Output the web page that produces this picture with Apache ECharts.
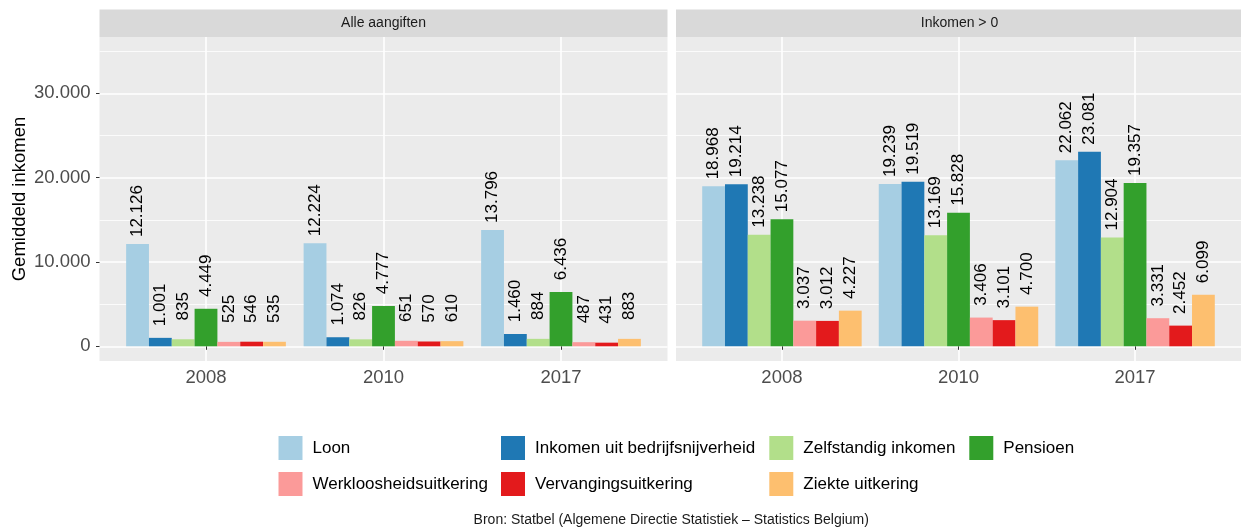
<!DOCTYPE html>
<html><head><meta charset="utf-8">
<script src="https://cdn.jsdelivr.net/npm/echarts@6/dist/echarts.min.js"></script>
<style>html,body{margin:0;padding:0;background:#fff}#c{width:1241px;height:529px}</style>
</head><body><div id="c"></div>
<script>
// ---------- DATA ----------
const YEARS = ['2008', '2010', '2017'];
const PANELS = ['Alle aangiften', 'Inkomen > 0'];
const SERIES_NAMES = ['Loon', 'Inkomen uit bedrijfsnijverheid', 'Zelfstandig inkomen', 'Pensioen',
  'Werkloosheidsuitkering', 'Vervangingsuitkering', 'Ziekte uitkering'];
// Panel "Alle aangiften" (values for 2008, 2010, 2017)
const alleLoon = [12126, 12224, 13796];
const alleBedrijf = [1001, 1074, 1460];
const alleZelfstandig = [835, 826, 884];
const allePensioen = [4449, 4777, 6436];
const alleWerkloosheid = [525, 651, 487];
const alleVervanging = [546, 570, 431];
const alleZiekte = [535, 610, 883];
// Panel "Inkomen > 0"
const posLoon = [18968, 19239, 22062];
const posBedrijf = [19214, 19519, 23081];
const posZelfstandig = [13238, 13169, 12904];
const posPensioen = [15077, 15828, 19357];
const posWerkloosheid = [3037, 3406, 3331];
const posVervanging = [3012, 3101, 2452];
const posZiekte = [4227, 4700, 6099];
const Y_TICKS = [0, 10000, 20000, 30000];
const Y_TITLE = 'Gemiddeld inkomen';
const CAPTION = 'Bron: Statbel (Algemene Directie Statistiek \u2013 Statistics Belgium)';

const PANEL_DATA = [
  [alleLoon, alleBedrijf, alleZelfstandig, allePensioen, alleWerkloosheid, alleVervanging, alleZiekte],
  [posLoon, posBedrijf, posZelfstandig, posPensioen, posWerkloosheid, posVervanging, posZiekte]
];

// ---------- STYLE / LAYOUT ----------
const COLORS = ['#A6CEE3', '#1F78B4', '#B2DF8A', '#33A02C', '#FB9A99', '#E31A1C', '#FDBF6F'];
const FONT = "'Liberation Sans', Arial, Helvetica, sans-serif";
const PANEL_X = [99.5, 676];
const PANEL_W = [568, 567];
const PANEL_TOP = 37, PANEL_BOTTOM = 361, ZERO_Y = 346.3;
const PX_PER_UNIT = 253 / 30000;
const STRIP_TOP = 9.5;
const yMaxA = (ZERO_Y - PANEL_TOP) / PX_PER_UNIT;
const yMinA = -(PANEL_BOTTOM - ZERO_Y) / PX_PER_UNIT;
const GRID_B_MAX = 40000;
// discrete axis like ggplot: 0.6 expansion each side, slots every 0.2 units
const SLOT_STEP = 0.2, EXPAND = 0.6;
const NSLOT = Math.round((YEARS.length - 1 + 2 * EXPAND) / SLOT_STEP) + 1;
const yearSlot = YEARS.map((y, k) => Math.round((k + EXPAND) / SLOT_STEP));
const SLOTS = Array.from({length: NSLOT}, (_, i) => {
  const k = yearSlot.indexOf(i); return k >= 0 ? YEARS[k] : ('s' + i);
});
const isYearSlot = (i) => yearSlot.indexOf(i) >= 0;
const fmt = (v) => String(Math.round(v)).replace(/\B(?=(\d{3})+(?!\d))/g, '.');

const grids = [], xAxes = [], yAxes = [], series = [], graphics = [];
PANELS.forEach((pname, p) => {
  const x0 = PANEL_X[p], w = PANEL_W[p];
  const unit = w / (YEARS.length - 1 + 2 * EXPAND);
  const barW = unit * 0.9 / SERIES_NAMES.length;
  // grid A: bars
  grids.push({left: x0, top: PANEL_TOP, width: w, height: PANEL_BOTTOM - PANEL_TOP,
    show: true, backgroundColor: '#EBEBEB', borderWidth: 0, containLabel: false});
  // grid B: horizontal gridlines & y labels
  const hB = GRID_B_MAX * PX_PER_UNIT;
  grids.push({left: x0, top: ZERO_Y - hB, width: w, height: hB, show: false, containLabel: false});
  const gA = p * 2, gB = p * 2 + 1;
  xAxes.push({
    gridIndex: gA, type: 'category', data: SLOTS, boundaryGap: false,
    axisLine: {show: false},
    axisTick: {show: true, interval: (i) => isYearSlot(i), length: 3.5, lineStyle: {color: '#333333', width: 1}},
    axisLabel: {show: true, interval: (i) => isYearSlot(i), formatter: (v) => (YEARS.indexOf(v) >= 0 ? v : ''),
      fontSize: 18.5, color: '#4D4D4D', margin: 7, fontFamily: FONT},
    splitLine: {show: true, interval: (i) => isYearSlot(i), lineStyle: {color: '#FFFFFF', width: 1.6}}
  });
  xAxes.push({gridIndex: gB, type: 'value', show: false, min: 0, max: 1});
  yAxes.push({
    gridIndex: gA, type: 'value', min: yMinA, max: yMaxA,
    axisLine: {show: false}, axisTick: {show: false}, axisLabel: {show: false}, splitLine: {show: false},
    name: p === 0 ? Y_TITLE : '', nameLocation: 'middle', nameGap: 70, nameRotate: 90,
    nameTextStyle: {fontSize: 18.5, color: '#000000', fontFamily: FONT}
  });
  yAxes.push({
    gridIndex: gB, type: 'value', min: 0, max: GRID_B_MAX, interval: 10000,
    axisLine: {show: false},
    axisTick: {show: p === 0, length: 3.5, lineStyle: {color: '#333333', width: 1}, customValues: Y_TICKS},
    axisLabel: {show: p === 0, fontSize: 18.5, color: '#4D4D4D', margin: 9, fontFamily: FONT,
      customValues: Y_TICKS,
      formatter: (v) => (Y_TICKS.indexOf(v) >= 0 ? fmt(v) : '')},
    splitLine: {show: true, lineStyle: {color: '#FFFFFF', width: 1.6}},
    minorTick: {show: false, splitNumber: 2},
    minorSplitLine: {show: true, lineStyle: {color: '#FFFFFF', width: 0.8}}
  });
  SERIES_NAMES.forEach((sname, s) => {
    const vals = PANEL_DATA[p][s];
    series.push({
      type: 'bar', name: sname, xAxisIndex: gA, yAxisIndex: gA,
      barWidth: barW, barGap: '0%',
      itemStyle: {color: COLORS[s]},
      data: SLOTS.map((_, i) => { const k = yearSlot.indexOf(i); return k >= 0 ? vals[k] : null; }),
      label: {show: true, position: 'top', distance: 33, rotate: 90, align: 'center', verticalAlign: 'middle',
        fontSize: 17, color: '#000000', fontFamily: FONT, formatter: (pp) => fmt(pp.value)},
      emphasis: {disabled: true}
    });
  });
  // facet strip
  graphics.push({type: 'rect', z: 100, shape: {x: x0, y: STRIP_TOP, width: w, height: PANEL_TOP - STRIP_TOP},
    style: {fill: '#D9D9D9'}});
  graphics.push({type: 'text', z: 101, x: x0 + w / 2, y: (STRIP_TOP + PANEL_TOP) / 2,
    style: {text: pname, fill: '#1A1A1A', fontSize: 14, fontFamily: FONT, align: 'center', verticalAlign: 'middle'}});
});
// caption
graphics.push({type: 'text', z: 101, x: (PANEL_X[0] + PANEL_X[1] + PANEL_W[1]) / 2, y: 520,
  style: {text: CAPTION, fill: '#1A1A1A', fontSize: 14, fontFamily: FONT, align: 'center', verticalAlign: 'middle'}});

// legend columns (ggplot-like 2-row layout)
const LEGEND_COLS = [
  {left: 278.5, names: [SERIES_NAMES[0], SERIES_NAMES[4]]},
  {left: 501, names: [SERIES_NAMES[1], SERIES_NAMES[5]]},
  {left: 769.3, names: [SERIES_NAMES[2], SERIES_NAMES[6]]},
  {left: 969.3, names: [SERIES_NAMES[3]]}
];
const legends = LEGEND_COLS.map(c => ({
  left: c.left, top: 436, orient: 'vertical', padding: 0, itemGap: 12,
  itemWidth: 24, itemHeight: 24, icon: 'rect', selectedMode: false, data: c.names,
  textStyle: {fontSize: 17, color: '#000000', fontFamily: FONT, padding: [0, 0, 0, 5]}
}));

const chart = echarts.init(document.getElementById('c'), null, {renderer: 'canvas'});
chart.setOption({
  animation: false,
  backgroundColor: '#FFFFFF',
  textStyle: {fontFamily: FONT},
  grid: grids, xAxis: xAxes, yAxis: yAxes, series: series,
  legend: legends, graphic: {elements: graphics}
});
</script></body></html>
